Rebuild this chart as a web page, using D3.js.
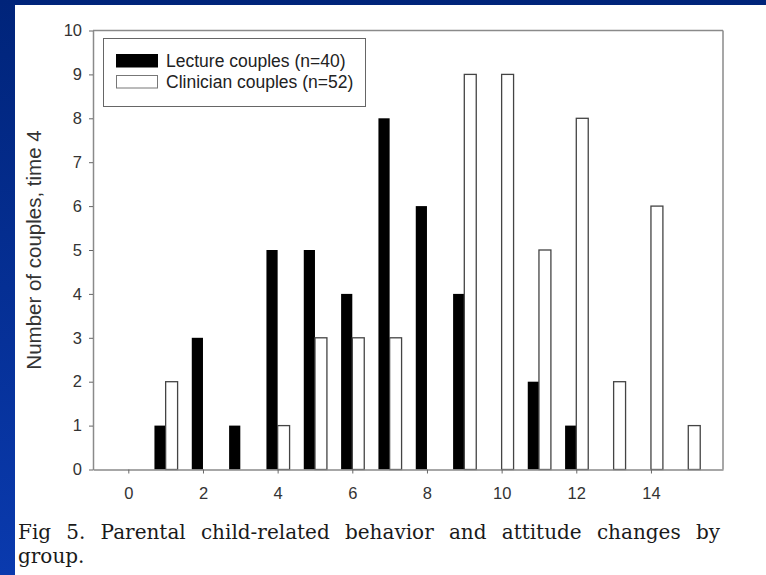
<!DOCTYPE html>
<html>
<head>
<meta charset="utf-8">
<script src="https://cdn.jsdelivr.net/npm/d3@7"></script>
<style>
  html, body { margin: 0; padding: 0; }
  body { width: 766px; height: 575px; overflow: hidden; }
  svg { display: block; }
</style>
</head>
<body>
<svg id="chart" width="766" height="575"></svg>
<script>
// ---- data ----
const changeScores = [0, 1, 2, 3, 4, 5, 6, 7, 8, 9, 10, 11, 12, 13, 14, 15];
const lectureCouples = [0, 1, 3, 1, 5, 5, 4, 8, 6, 4, 0, 2, 1, 0, 0, 0];
const clinicianCouples = [0, 2, 0, 0, 1, 3, 3, 3, 0, 9, 9, 5, 8, 2, 6, 1];
const seriesNames = ["Lecture couples (n=40)", "Clinician couples (n=52)"];
const xTicks = [0, 2, 4, 6, 8, 10, 12, 14];
const yTicks = [0, 1, 2, 3, 4, 5, 6, 7, 8, 9, 10];
const yLabel = "Number of couples, time 4";
const captionLines = ["Fig 5. Parental child-related behavior and attitude changes by", "group."];

const svg = d3.select("#chart");
const W = 766, H = 575;

// background
const defs = svg.append("defs");
const grad = defs.append("linearGradient").attr("id", "bg").attr("x1", 0).attr("y1", 0).attr("x2", 0).attr("y2", 1);
grad.append("stop").attr("offset", "0%").attr("stop-color", "#00247a");
grad.append("stop").attr("offset", "100%").attr("stop-color", "#0a3aae");
svg.append("rect").attr("width", W).attr("height", H).attr("fill", "url(#bg)");
svg.append("rect").attr("x", 15).attr("y", 5).attr("width", W - 15).attr("height", H - 5).attr("fill", "#ffffff");

// plot area
const plot = { left: 93, right: 723, top: 30.5, bottom: 469.5 };
const x = d3.scaleLinear().domain([-0.946, 15.93]).range([plot.left, plot.right]);
const y = d3.scaleLinear().domain([0, 10]).range([plot.bottom, plot.top]);

const g = svg.append("g");

// bars
const wBlack = 0.3, wWhite = 0.32;
g.selectAll("rect.lec").data(changeScores).enter().append("rect")
  .attr("class", "lec")
  .attr("x", (d) => x(d - wBlack))
  .attr("width", x(wBlack) - x(0))
  .attr("y", (d, i) => y(lectureCouples[i]))
  .attr("height", (d, i) => y(0) - y(lectureCouples[i]))
  .attr("fill", "#000");

g.selectAll("rect.cli").data(changeScores).enter().append("rect")
  .attr("class", "cli")
  .attr("x", (d) => x(d))
  .attr("width", x(wWhite) - x(0))
  .attr("y", (d, i) => y(clinicianCouples[i]))
  .attr("height", (d, i) => y(0) - y(clinicianCouples[i]))
  .attr("fill", "#fff")
  .attr("stroke", "#444")
  .attr("stroke-width", 1.3);

// frame
const frameColor = "#8a8a8a";
g.append("line").attr("x1", plot.left).attr("x2", plot.right).attr("y1", plot.top).attr("y2", plot.top)
  .attr("stroke", frameColor).attr("stroke-width", 1.5);
g.append("line").attr("x1", plot.right).attr("x2", plot.right).attr("y1", plot.top).attr("y2", plot.bottom)
  .attr("stroke", frameColor).attr("stroke-width", 1.5);

// axes
const xAxis = d3.axisBottom(x).tickValues(xTicks).tickSize(4).tickPadding(14).tickSizeOuter(0);
const gx = svg.append("g").attr("transform", `translate(0,${plot.bottom})`).call(xAxis);
gx.select(".domain").attr("stroke", frameColor).attr("stroke-width", 1.5);
gx.selectAll(".tick line").attr("stroke", "#666");
gx.selectAll(".tick text").attr("font-family", "Arial, 'Liberation Sans', sans-serif").attr("font-size", 16.5).attr("fill", "#333");

const yAxis = d3.axisLeft(y).tickValues(yTicks).tickSize(4).tickPadding(7).tickSizeOuter(0);
const gy = svg.append("g").attr("transform", `translate(${plot.left},0)`).call(yAxis);
gy.select(".domain").attr("stroke", frameColor).attr("stroke-width", 1.5);
gy.selectAll(".tick line").attr("stroke", "#666");
gy.selectAll(".tick text").attr("font-family", "Arial, 'Liberation Sans', sans-serif").attr("font-size", 16.5).attr("fill", "#333");

// y label
svg.append("text")
  .attr("transform", `translate(41,250) rotate(-90)`)
  .attr("text-anchor", "middle")
  .attr("font-family", "Arial, 'Liberation Sans', sans-serif")
  .attr("font-size", 20.5)
  .attr("fill", "#333")
  .text(yLabel);

// legend
const lg = svg.append("g");
lg.append("rect").attr("x", 103.5).attr("y", 38.5).attr("width", 262).attr("height", 68)
  .attr("fill", "#fff").attr("stroke", "#666").attr("stroke-width", 1);
const legendFill = ["#000", "#fff"];
seriesNames.forEach((name, i) => {
  lg.append("rect").attr("x", 116.5).attr("y", 54.5 + i * 21).attr("width", 41).attr("height", 12.5)
    .attr("fill", legendFill[i]).attr("stroke", i ? "#777" : "#000").attr("stroke-width", 1);
  lg.append("text").attr("x", 166).attr("y", 67 + i * 21)
    .attr("font-family", "Arial, 'Liberation Sans', sans-serif")
    .attr("font-size", 17.5).attr("fill", "#222")
    .text(name);
});

// caption (justified first line)
const cap = svg.append("g");
captionLines.forEach((line, i) => {
  const t = cap.append("text").attr("x", 18).attr("y", 539 + i * 23.5)
    .attr("font-family", "'DejaVu Serif', serif").attr("font-size", 20).attr("fill", "#1a1a1a")
    .text(line);
  if (i === 0) {
    const natural = t.node().getComputedTextLength();
    const gaps = line.split(" ").length - 1;
    const extra = (720 - 18 - natural) / gaps;
    t.attr("word-spacing", extra);
  }
});
</script>
</body>
</html>
